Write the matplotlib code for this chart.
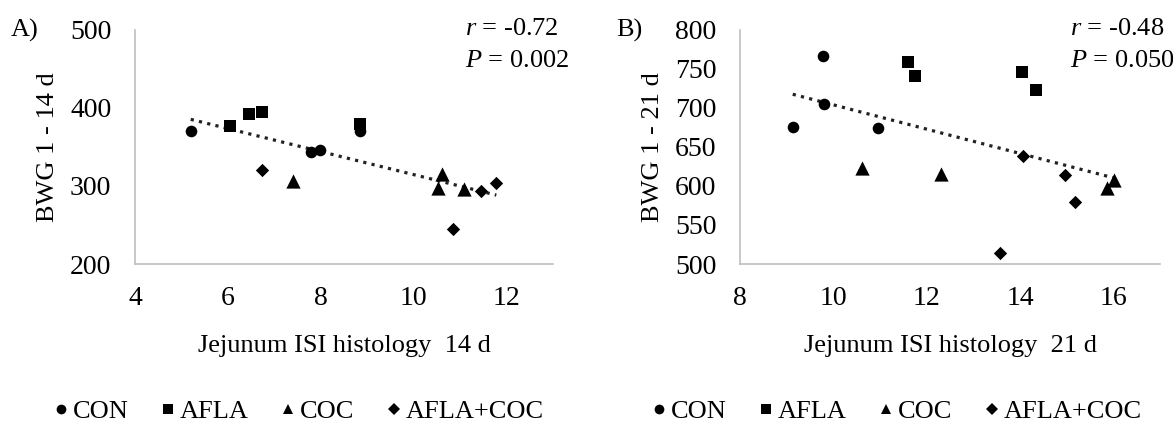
import numpy as np
import matplotlib
matplotlib.use("Agg")
import matplotlib.pyplot as plt
from matplotlib.lines import Line2D

plt.rcParams.update({
    'font.family': 'Liberation Serif', 'font.size': 19,
    'xtick.labelsize': 20, 'ytick.labelsize': 20,
    'mathtext.fontset': 'custom', 'mathtext.it': 'Liberation Serif:italic',
    'mathtext.rm': 'Liberation Serif',
})

groups = ["CON", "AFLA", "COC", "AFLA+COC"]
markers = {"CON": "o", "AFLA": "s", "COC": "^", "AFLA+COC": "D"}
sizes = {"CON": 70, "AFLA": 64, "COC": 105, "AFLA+COC": 46}

# panel A: ISI 14 d vs BWG 1-14 d
isi14 = {
    "CON": [5.20, 7.78, 7.98, 8.84],
    "AFLA": [6.05, 6.45, 6.74, 8.84],
    "COC": [7.41, 10.52, 10.60, 11.08],
    "AFLA+COC": [6.74, 10.84, 11.45, 11.78],
}
bwg14 = {
    "CON": [371, 343, 346, 371],
    "AFLA": [377, 392, 395, 380],
    "COC": [306, 298, 316, 296],
    "AFLA+COC": [321, 245, 293, 304],
}

# panel B: ISI 21 d vs BWG 1-21 d
isi21 = {
    "CON": [9.13, 9.77, 9.80, 10.95],
    "AFLA": [11.59, 11.75, 14.05, 14.35],
    "COC": [10.61, 12.30, 15.87, 16.01],
    "AFLA+COC": [13.57, 14.07, 14.96, 15.18],
}
bwg21 = {
    "CON": [676, 767, 705, 674],
    "AFLA": [759, 741, 746, 723],
    "COC": [623, 615, 597, 608],
    "AFLA+COC": [514, 638, 614, 580],
}

fig = plt.figure(figsize=(11.73, 4.26), dpi=100)
W, H = 1173, 426


def make_panel(left_px, right_px, xs, ys, xlim, xticks, ylim, yticks,
               xlabel, ylabel, letter, stats, stats_x, legend_cx):
    ax = fig.add_axes([left_px / W, 1 - 264 / H, (right_px - left_px) / W, 234 / H])
    for g in groups:
        ax.scatter(xs[g], ys[g], marker=markers[g], s=sizes[g], color='black',
                   linewidths=0, zorder=3)
    # linear trend over all points
    allx = np.concatenate([xs[g] for g in groups])
    ally = np.concatenate([ys[g] for g in groups])
    k, b = np.polyfit(allx, ally, 1)
    tx = np.array([allx.min(), allx.max()])
    ax.plot(tx, k * tx + b, linestyle=':', color='#222222', lw=2.3, zorder=2)

    ax.set_xlim(*xlim)
    ax.set_ylim(*ylim)
    ax.set_xticks(xticks)
    ax.set_yticks(yticks)
    ax.tick_params(length=0)
    ax.tick_params(axis='y', pad=17)
    ax.tick_params(axis='x', pad=16)
    for s in ['top', 'right']:
        ax.spines[s].set_visible(False)
    for s in ['left', 'bottom']:
        ax.spines[s].set_color('#BFBFBF')
        ax.spines[s].set_linewidth(1.2)
    ax.set_xlabel(xlabel, labelpad=17)
    ax.set_ylabel(ylabel, labelpad=8)

    fig.text((left_px - 124) / W, 1 - 30 / H, letter, ha='left', va='center')
    fig.text(stats_x / W, 1 - 29 / H, stats[0], ha='left', va='center')
    fig.text(stats_x / W, 1 - 61 / H, stats[1], ha='left', va='center')

    handles = [Line2D([], [], marker=markers[g], ls='none', color='black',
                      markersize=7 if g != "AFLA+COC" else 6, markeredgewidth=0)
               for g in groups]
    fig.legend(handles, groups, loc='center', bbox_to_anchor=(legend_cx / W, 1 - 411 / H),
               ncol=4, frameon=False, handlelength=0.5, handletextpad=0.2,
               columnspacing=1.25, borderpad=0)
    return ax


make_panel(135, 553, isi14, bwg14, (4, 13), [4, 6, 8, 10, 12], (200, 500),
           [200, 300, 400, 500], "Jejunum ISI histology  14 d", "BWG 1 - 14 d", "A)",
           ("$\\it{r}$ = -0.72", "$\\it{P}$ = 0.002"), 465, 299)
make_panel(740, 1160, isi21, bwg21, (8, 17), [8, 10, 12, 14, 16], (500, 800),
           [500, 550, 600, 650, 700, 750, 800], "Jejunum ISI histology  21 d",
           "BWG 1 - 21 d", "B)", ("$\\it{r}$ = -0.48", "$\\it{P}$ = 0.050"), 1070, 897)

fig.savefig("out.png", dpi=100)
